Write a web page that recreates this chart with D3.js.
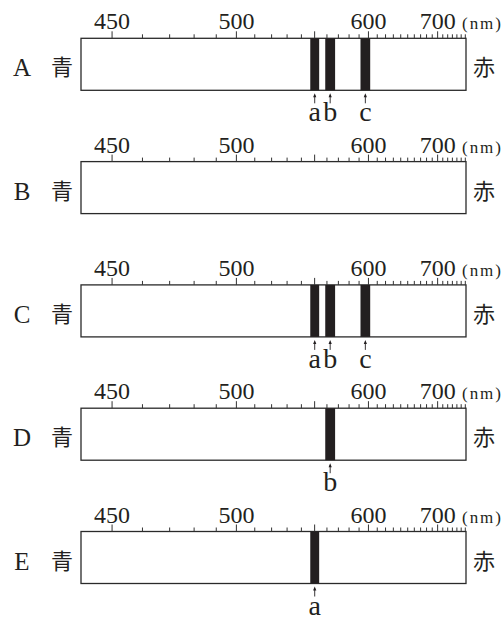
<!DOCTYPE html>
<html>
<head>
<meta charset="utf-8">
<script src="https://cdn.jsdelivr.net/npm/d3@7"></script>
<style>
  body { margin: 0; background: #fff; }
  svg { display: block; }
</style>
</head>
<body>
<script>
// spectra A-E, wavelengths in nm
var rows = ["A", "B", "C", "D", "E"];
var rowLines = [["a", "b", "c"], [], ["a", "b", "c"], ["b"], ["a"]];

// dark lines: name, low / high edge (nm)
var lineNames = ["a", "b", "c"];
var lineLow = [547, 559, 592];
var lineHigh = [554, 567.5, 602.5];

var majorTicks = [450, 500, 550, 600, 700];
var tickLabels = [450, 500, 600, 700];
var minorTicks = [460, 470, 480, 490, 510, 520, 530, 540, 560, 570, 580, 590,
                  610, 620, 630, 640, 650, 660, 670, 680, 690,
                  710, 720, 730, 740, 750, 760];
var scaleEnds = [441, 763];

var width = 504, height = 617;
var left = 81, right = 466, barH = 52, top0 = 38.3, step = 123.3;
var serif = '"Liberation Serif", "DejaVu Serif", serif';
var cjk = '"Noto Sans CJK JP", sans-serif';
var ink = "#231f20";

var svg = d3.select("body").append("svg")
  .attr("width", width)
  .attr("height", height);

svg.append("rect").attr("width", width).attr("height", height).attr("fill", "#fff");

// prism scale (Hartmann style): position is linear in 1/(lambda - 280)
function hart(l) { return 1 / (l - 280); }
var lin = d3.scaleLinear()
  .domain(scaleEnds.map(hart))
  .range([left, right]);
function x(l) { return lin(hart(l)); }
x.copy = function() { return x; };
x.range = function() { return lin.range(); };
x.domain = function() { return scaleEnds; };

rows.forEach(function(name, i) {
  var g = svg.append("g")
    .attr("transform", "translate(0," + (top0 + i * step) + ")");

  g.append("rect")
    .attr("x", left).attr("y", 0)
    .attr("width", right - left).attr("height", barH)
    .attr("fill", "#fff")
    .attr("stroke", "#2a2a2a").attr("stroke-width", 1.3);

  rowLines[i].forEach(function(ln) {
    var k = lineNames.indexOf(ln);
    var xa = x(lineLow[k]), xb = x(lineHigh[k]);
    var xc = (xa + xb) / 2;
    g.append("rect")
      .attr("x", xa).attr("y", 0)
      .attr("width", xb - xa).attr("height", barH)
      .attr("fill", ink);
    // little arrow under the band
    g.append("line")
      .attr("x1", xc).attr("x2", xc)
      .attr("y1", barH + 5).attr("y2", barH + 13)
      .attr("stroke", ink).attr("stroke-width", 0.9);
    g.append("path")
      .attr("d", "M" + xc + "," + (barH + 3) + "l-1.6,4h3.2z")
      .attr("fill", ink);
    g.append("text")
      .attr("x", xc).attr("y", barH + 31)
      .attr("text-anchor", "middle")
      .style("font-family", serif).style("font-size", "28px")
      .attr("fill", ink)
      .text(ln);
  });

  // ticks on top edge
  var ax = g.append("g")
    .call(d3.axisTop(x).tickValues(majorTicks).tickSize(7).tickPadding(2)
      .tickSizeOuter(0)
      .tickFormat(function(d) { return tickLabels.indexOf(d) >= 0 ? d : ""; }));
  ax.select(".domain").remove();
  ax.selectAll("line").attr("stroke", "#333");
  ax.selectAll("text")
    .attr("fill", ink)
    .style("font-family", serif)
    .style("font-size", "24px");

  var mi = g.append("g")
    .call(d3.axisTop(x).tickValues(minorTicks).tickSize(4).tickFormat(""));
  mi.select(".domain").remove();
  mi.selectAll("line").attr("stroke", "#333");

  g.append("text")
    .attr("x", 462).attr("y", -9)
    .attr("textLength", 39).attr("lengthAdjust", "spacing")
    .style("font-family", serif).style("font-size", "17px")
    .attr("fill", ink)
    .text("(nm)");

  g.append("text")
    .attr("x", 22).attr("y", 38)
    .attr("text-anchor", "middle")
    .style("font-family", serif).style("font-size", "25px")
    .attr("fill", ink)
    .text(name);

  [["青", 62], ["赤", 484]].forEach(function(c) {
    g.append("text")
      .attr("x", c[1]).attr("y", 27)
      .attr("text-anchor", "middle")
      .attr("dominant-baseline", "central")
      .style("font-family", cjk).style("font-size", "22px")
      .attr("fill", ink)
      .text(c[0]);
  });
});
</script>
</body>
</html>
